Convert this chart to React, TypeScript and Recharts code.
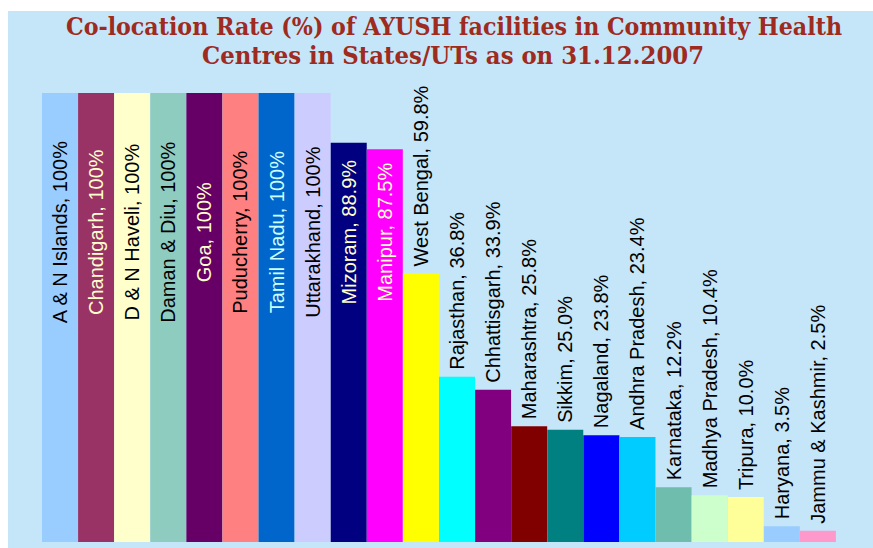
import React from "react";
import { BarChart, Bar, Cell, LabelList, XAxis, YAxis } from "recharts";

const STATES = [
  "A & N Islands",
  "Chandigarh",
  "D & N Haveli",
  "Daman & Diu",
  "Goa",
  "Puducherry",
  "Tamil Nadu",
  "Uttarakhand",
  "Mizoram",
  "Manipur",
  "West Bengal",
  "Rajasthan",
  "Chhattisgarh",
  "Maharashtra",
  "Sikkim",
  "Nagaland",
  "Andhra Pradesh",
  "Karnataka",
  "Madhya Pradesh",
  "Tripura",
  "Haryana",
  "Jammu & Kashmir",
];

const RATES = [
  100, 100, 100, 100, 100, 100, 100, 100, 88.9, 87.5, 59.8, 36.8, 33.9, 25.8, 25.0, 23.8, 23.4,
  12.2, 10.4, 10.0, 3.5, 2.5,
];

const RATE_LABELS = [
  "100%", "100%", "100%", "100%", "100%", "100%", "100%", "100%", "88.9%", "87.5%", "59.8%",
  "36.8%", "33.9%", "25.8%", "25.0%", "23.8%", "23.4%", "12.2%", "10.4%", "10.0%", "3.5%", "2.5%",
];

const BAR_COLORS = [
  "#99ccff", "#993366", "#ffffcc", "#8fccc0", "#660066", "#ff8080", "#0066cc", "#ccccff",
  "#000080", "#ff00ff", "#ffff00", "#00ffff", "#800080", "#800000", "#008080", "#0000ff",
  "#00ccff", "#6fbdad", "#ccffcc", "#ffff99", "#99ccff", "#ff99cc",
];

const TEXT_COLORS = [
  "#000000", "#ffffcc", "#000000", "#000000", "#ffffcc", "#000000", "#ccffff", "#000000",
  "#ffffcc", "#ffffcc",
];

const chartData = STATES.map((name, i) => ({ name, value: RATES[i], label: RATE_LABELS[i] }));

const TITLE_COLOR = "#9e2a20";
const BG = "#c5e5f8";
const LABEL_FONT = "'Liberation Sans', Arial, sans-serif";

function BarLabel(props: any) {
  const { x, y, width, height, index } = props;
  const d = chartData[index];
  const cx = x + width / 2;
  const text = `${d.name}, ${d.label}`;
  const fill = TEXT_COLORS[index] || "#000000";
  if (d.value > 60) {
    // tall bars: label sits inside, roughly around the 69% line
    const bottom = y + height;
    const cy = bottom - (69 * height) / d.value;
    return (
      <text
        x={cx}
        y={cy}
        transform={`rotate(-90 ${cx} ${cy})`}
        textAnchor="middle"
        dominantBaseline="central"
        fill={fill}
        fontSize={20}
        fontFamily={LABEL_FONT}
      >
        {text}
      </text>
    );
  }
  const ly = y - 7;
  return (
    <text
      x={cx}
      y={ly}
      transform={`rotate(-90 ${cx} ${ly})`}
      textAnchor="start"
      dominantBaseline="central"
      fill={fill}
      fontSize={20}
      fontFamily={LABEL_FONT}
    >
      {text}
    </text>
  );
}

export default function App() {
  return (
    <div style={{ position: "absolute", left: 0, top: 0, width: 873, height: 548, background: "#fff" }}>
      <div style={{ position: "absolute", left: 8, top: 11, width: 865, height: 537, background: BG }} />
      <svg width={873} height={80} style={{ position: "absolute", left: 0, top: 0 }}>
        <text
          x={454}
          y={35}
          textAnchor="middle"
          fill={TITLE_COLOR}
          fontSize={24}
          fontWeight="bold"
          fontFamily="'DejaVu Serif', serif"
          textLength={776}
          lengthAdjust="spacingAndGlyphs"
        >
          Co-location Rate (%) of AYUSH facilities in Community Health
        </text>
        <text
          x={453}
          y={64}
          textAnchor="middle"
          fill={TITLE_COLOR}
          fontSize={24}
          fontWeight="bold"
          fontFamily="'DejaVu Serif', serif"
          textLength={502}
          lengthAdjust="spacingAndGlyphs"
        >
          Centres in States/UTs as on 31.12.2007
        </text>
      </svg>
      <div style={{ position: "absolute", left: 0, top: 0 }}>
        <BarChart
          width={873}
          height={548}
          data={chartData}
          margin={{ top: 93, right: 37, bottom: 6, left: 42 }}
          barCategoryGap={0}
          barGap={0}
        >
          <XAxis dataKey="name" hide />
          <YAxis domain={[0, 100]} hide />
          <Bar dataKey="value" isAnimationActive={false}>
            {chartData.map((d, i) => (
              <Cell key={d.name} fill={BAR_COLORS[i]} />
            ))}
            <LabelList dataKey="value" content={BarLabel} />
          </Bar>
        </BarChart>
      </div>
    </div>
  );
}
